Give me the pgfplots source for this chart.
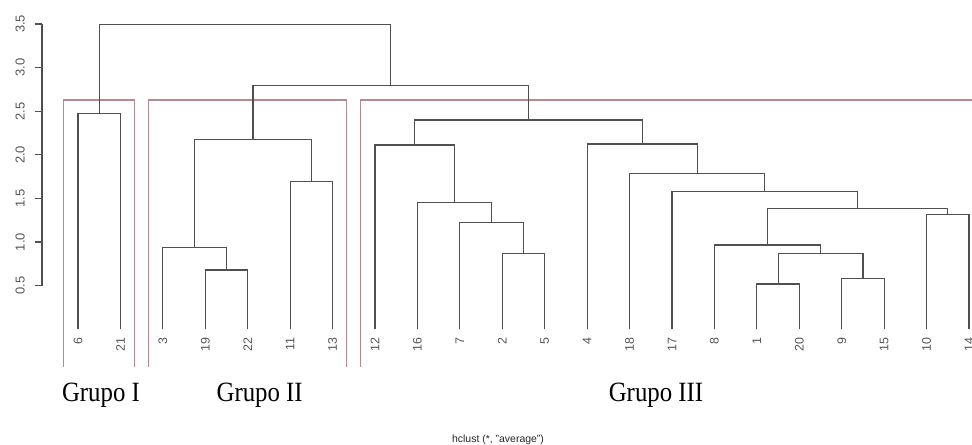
\documentclass[border=0pt]{standalone}
\usepackage{pgfplots}
\pgfplotsset{compat=1.18}
\usepackage{fontspec}
\setmainfont{Liberation Sans}
\newfontfamily\grfont{Liberation Serif}
\definecolor{dline}{HTML}{505050}
\definecolor{labgray}{HTML}{555555}
\definecolor{rbox}{HTML}{B88A8E}
\begin{document}
\begin{tikzpicture}[x=1bp,y=1bp]
\begin{axis}[at={(0,0)}, anchor=south west, scale only axis,
  width=972bp, height=445bp,
  xmin=-0.8383, xmax=22.070, ymin=-1.326, ymax=3.775,
  axis lines=none, clip=false,
  every axis plot/.append style={line width=1.2bp, mark=none}]
% group rectangles (rect.hclust)
\addplot[rbox] coordinates {(0.66,-0.429) (0.66,2.629) (2.33,2.629) (2.33,-0.429)};
\addplot[rbox] coordinates {(2.66,-0.429) (2.66,2.629) (7.33,2.629) (7.33,-0.429)};
\addplot[rbox] coordinates {(22.07,2.629) (7.66,2.629) (7.66,-0.429)};
% dendrogram merges
\addplot[dline] coordinates {(1,0) (1,2.472) (2,2.472) (2,0)};
\addplot[dline] coordinates {(4,0) (4,0.680) (5,0.680) (5,0)};
\addplot[dline] coordinates {(3,0) (3,0.940) (4.5,0.940) (4.5,0.680)};
\addplot[dline] coordinates {(6,0) (6,1.692) (7,1.692) (7,0)};
\addplot[dline] coordinates {(3.75,0.940) (3.75,2.178) (6.5,2.178) (6.5,1.692)};
\addplot[dline] coordinates {(11,0) (11,0.867) (12,0.867) (12,0)};
\addplot[dline] coordinates {(10,0) (10,1.227) (11.5,1.227) (11.5,0.867)};
\addplot[dline] coordinates {(9,0) (9,1.456) (10.75,1.456) (10.75,1.227)};
\addplot[dline] coordinates {(8,0) (8,2.113) (9.875,2.113) (9.875,1.456)};
\addplot[dline] coordinates {(17,0) (17,0.519) (18,0.519) (18,0)};
\addplot[dline] coordinates {(19,0) (19,0.585) (20,0.585) (20,0)};
\addplot[dline] coordinates {(17.5,0.519) (17.5,0.867) (19.5,0.867) (19.5,0.585)};
\addplot[dline] coordinates {(16,0) (16,0.966) (18.5,0.966) (18.5,0.867)};
\addplot[dline] coordinates {(21,0) (21,1.318) (22,1.318) (22,0)};
\addplot[dline] coordinates {(17.25,0.966) (17.25,1.387) (21.5,1.387) (21.5,1.318)};
\addplot[dline] coordinates {(15,0) (15,1.577) (19.375,1.577) (19.375,1.387)};
\addplot[dline] coordinates {(14,0) (14,1.784) (17.1875,1.784) (17.1875,1.577)};
\addplot[dline] coordinates {(13,0) (13,2.124) (15.594,2.124) (15.594,1.784)};
\addplot[dline] coordinates {(8.9375,2.113) (8.9375,2.399) (14.297,2.399) (14.297,2.124)};
\addplot[dline] coordinates {(5.125,2.178) (5.125,2.793) (11.617,2.793) (11.617,2.399)};
\addplot[dline] coordinates {(1.5,2.472) (1.5,3.497) (8.371,3.497) (8.371,2.793)};
% leaf labels
\tikzset{leaf/.style={rotate=90, anchor=east, inner sep=0pt, text=labgray, font=\fontsize{12.5}{12.5}\selectfont}}
\node[leaf] at (axis cs:1,-0.088) {6};
\node[leaf] at (axis cs:2,-0.088) {21};
\node[leaf] at (axis cs:3,-0.088) {3};
\node[leaf] at (axis cs:4,-0.088) {19};
\node[leaf] at (axis cs:5,-0.088) {22};
\node[leaf] at (axis cs:6,-0.088) {11};
\node[leaf] at (axis cs:7,-0.088) {13};
\node[leaf] at (axis cs:8,-0.088) {12};
\node[leaf] at (axis cs:9,-0.088) {16};
\node[leaf] at (axis cs:10,-0.088) {7};
\node[leaf] at (axis cs:11,-0.088) {2};
\node[leaf] at (axis cs:12,-0.088) {5};
\node[leaf] at (axis cs:13,-0.088) {4};
\node[leaf] at (axis cs:14,-0.088) {18};
\node[leaf] at (axis cs:15,-0.088) {17};
\node[leaf] at (axis cs:16,-0.088) {8};
\node[leaf] at (axis cs:17,-0.088) {1};
\node[leaf] at (axis cs:18,-0.088) {20};
\node[leaf] at (axis cs:19,-0.088) {9};
\node[leaf] at (axis cs:20,-0.088) {15};
\node[leaf] at (axis cs:21,-0.088) {10};
\node[leaf] at (axis cs:22,-0.088) {14};
% group labels
\tikzset{grp/.style={anchor=base, inner sep=0pt, xscale=0.89, text=black, font=\grfont\fontsize{28}{28}\selectfont}}
\node[grp] at (axis cs:1.542,-0.822) {Grupo I};
\node[grp] at (axis cs:5.282,-0.822) {Grupo II};
\node[grp] at (axis cs:14.623,-0.822) {Grupo III};
% subtitle
\node[anchor=base, inner sep=0pt, text=black!85, font=\fontsize{10.5}{10.5}\selectfont] at (axis cs:10.899,-1.300) {hclust (*, "average")};
\end{axis}
\begin{axis}[at={(42bp,159.3bp)}, anchor=south west, scale only axis,
  width=10bp, height=261.7bp,
  xmin=0, xmax=1, ymin=0.5, ymax=3.5,
  axis x line=none, axis y line=left, axis line style={-, line width=1.2bp, dline},
  ytick={0.5,1,1.5,2,2.5,3,3.5},
  yticklabels={0.5,1.0,1.5,2.0,2.5,3.0,3.5},
  tick align=outside, major tick length=7bp,
  tick style={line width=1.2bp, dline},
  yticklabel style={rotate=90, anchor=south, inner sep=0pt, text=labgray, font=\fontsize{13}{13}\selectfont, yshift=10bp}]
\end{axis}
\pgfresetboundingbox
\useasboundingbox (0,0) rectangle (972bp,445bp);
\end{tikzpicture}
\end{document}
